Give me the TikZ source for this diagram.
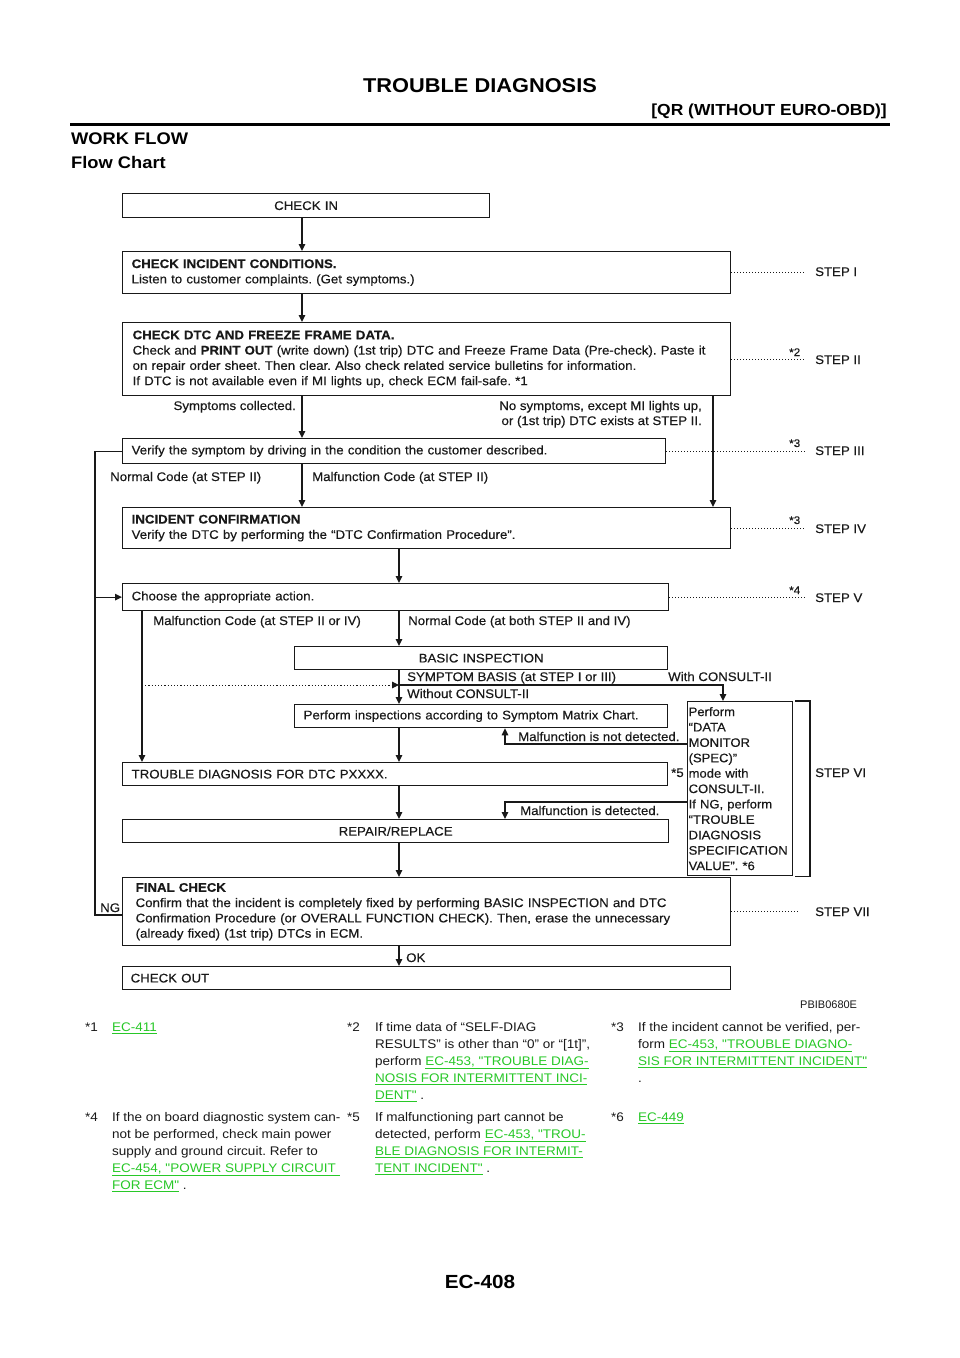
\documentclass[tikz,border=0pt]{standalone}
\usepackage{fontspec}
\setmainfont{Liberation Sans}
\newfontfamily\fcfam{Liberation Sans}[FakeStretch=1.06,FakeBold=0.3]
\newfontfamily\fnfam{Liberation Sans}[FakeStretch=1.08]
\newfontfamily\hdfam{Liberation Sans}[FakeStretch=1.09]
\usetikzlibrary{arrows.meta}
\definecolor{lnkgreen}{RGB}{40,200,40}
\definecolor{ink}{RGB}{25,25,25}
\newcommand\lnk[1]{\textcolor{lnkgreen}{\underline{#1}}}
\newcommand\nohyph{\hyphenpenalty=10000 \exhyphenpenalty=10000 \frenchspacing}
\newcommand\fcf{\fcfam\fontsize{12.5}{15.3}\selectfont\nohyph}
\newcommand\consf{\fcfam\fontsize{12.3}{15.4}\selectfont\nohyph}
\newcommand\fnf{\fnfam\fontsize{12.5}{17}\selectfont\frenchspacing}
\tikzset{
  fbox/.style={draw=ink, line width=1.3pt, anchor=north west, inner xsep=9pt, inner ysep=0pt, align=left, font=\fcf, text=ink},
  lbl/.style={inner sep=0pt, font=\fcf, text=ink},
  stepl/.style={inner sep=0pt, font=\fcf, text=ink, anchor=base west},
  starl/.style={inner sep=0pt, font=\fcfam\fontsize{11}{12}\selectfont, text=ink, anchor=base west},
  conn/.style={draw=ink, line width=1.3pt},
  arr/.style={draw=ink, line width=1.3pt, -{Triangle[width=6.5pt,length=7pt]}},
  dotl/.style={draw=ink, line width=0.9pt, dash pattern=on 1pt off 2pt},
  fnote/.style={inner sep=0pt, anchor=base west, align=left, font=\fnf, text=ink},
}
\begin{document}
\begin{tikzpicture}[x=1pt,y=-1pt]
\useasboundingbox (0,0) rectangle (960,1358);
\fill[white] (0,0) rectangle (960,1358);

% header
\node[inner sep=0pt, anchor=base, font=\hdfam\bfseries\fontsize{20}{24}\selectfont] (title) at (480,92) {TROUBLE DIAGNOSIS};
\node[inner sep=0pt, anchor=base east, font=\hdfam\bfseries\fontsize{16}{20}\selectfont] (sub) at (887,115) {[QR (WITHOUT EURO-OBD)]};
\coordinate (ruleL) at (70,124.5);
\coordinate (ruleR) at (890,124.5);
\draw[line width=2.6pt] (ruleL) -- (ruleR);
\node[inner sep=0pt, anchor=base west, font=\hdfam\bfseries\fontsize{16.8}{20}\selectfont] (wf) at (71,144) {WORK FLOW};
\node[inner sep=0pt, anchor=base west, font=\hdfam\bfseries\fontsize{16.8}{20}\selectfont] (fc) at (71,168) {Flow Chart};

% column coordinates
\coordinate (xA) at (302,0);
\coordinate (xB) at (399,0);
\coordinate (xC) at (713,0);
\coordinate (xL) at (142,0);
\coordinate (xN) at (95,0);
\coordinate (xD) at (805,0);
\coordinate (xM) at (505,0);
\coordinate (xW) at (723,0);
\coordinate (xBr) at (810,0);

% boxes
\node[fbox, align=center, text width=349pt, minimum height=24pt] (checkin) at (122,193) {CHECK IN};
\node[fbox, text width=590pt, minimum height=42pt] (cond) at (122,251) {\textbf{CHECK INCIDENT CONDITIONS.}\\Listen to customer complaints. (Get symptoms.)};
\node[fbox, inner xsep=10pt, text width=588pt, minimum height=73pt] (dtc) at (122,322) {\textbf{CHECK DTC AND FREEZE FRAME DATA.}\\Check and \textbf{PRINT OUT} (write down) (1st trip) DTC and Freeze Frame Data (Pre-check). Paste it\\on repair order sheet. Then clear. Also check related service bulletins for information.\\If DTC is not available even if MI lights up, check ECM fail-safe. *1};
\node[fbox, text width=525pt, minimum height=25pt] (verify) at (122,438) {Verify the symptom by driving in the condition the customer described.};
\node[fbox, text width=590pt, minimum height=41pt] (confirm) at (122,507) {\textbf{INCIDENT CONFIRMATION}\\Verify the DTC by performing the “DTC Confirmation Procedure”.};
\node[fbox, text width=528pt, minimum height=27pt] (choose) at (122,583) {Choose the appropriate action.};
\node[fbox, align=center, text width=355pt, minimum height=23pt] (basic) at (294,646) {BASIC INSPECTION};
\node[fbox, text width=355pt, minimum height=23pt] (perform) at (294,704) {Perform inspections according to Symptom Matrix Chart.};
\node[fbox, text width=527pt, minimum height=23pt] (tdtc) at (122,762) {TROUBLE DIAGNOSIS FOR DTC PXXXX.};
\node[fbox, align=center, text width=528pt, minimum height=23pt] (repair) at (122,819) {REPAIR/REPLACE};
\node[fbox, inner xsep=1pt, text width=103pt, minimum height=174pt, font=\consf] (consult) at (687,701) {Perform\\“DATA\\MONITOR\\(SPEC)”\\mode with\\CONSULT-II.\\If NG, perform\\“TROUBLE\\DIAGNOSIS\\SPECIFICATION\\VALUE”. *6};
\node[fbox, inner xsep=13pt, text width=582pt, minimum height=68pt] (final) at (122,877) {\textbf{FINAL CHECK}\\Confirm that the incident is completely fixed by performing BASIC INSPECTION and DTC\\Confirmation Procedure (or OVERALL FUNCTION CHECK). Then, erase the unnecessary\\(already fixed) (1st trip) DTCs in ECM.};
\node[fbox, inner xsep=8pt, text width=592pt, minimum height=23pt] (checkout) at (122,966) {CHECK OUT};

% main connectors
\draw[arr] (checkin.south -| xA) -- (cond.north -| xA);
\draw[arr] (cond.south -| xA) -- (dtc.north -| xA);
\draw[arr] (dtc.south -| xA) -- (verify.north -| xA);
\draw[arr] (dtc.south -| xC) -- (confirm.north -| xC);
\draw[arr] (verify.south -| xA) -- (confirm.north -| xA);
\draw[arr] (confirm.south -| xB) -- (choose.north -| xB);
\draw[arr] (choose.south -| xB) -- (basic.north -| xB);
\draw[arr] (choose.south -| xL) -- (tdtc.north -| xL);
\draw[arr] (basic.south -| xB) -- (perform.north -| xB);
\coordinate (ySym) at (0,685);
\draw[arr] (ySym -| xB) -- (ySym -| xW) -- (consult.north -| xW);
\draw[arr, dash pattern=on 1.2pt off 2pt, line width=1pt] (ySym -| xL) -- (ySym -| xB);
\draw[arr] (perform.south -| xB) -- (tdtc.north -| xB);
\draw[arr] (tdtc.south -| xB) -- (repair.north -| xB);
\draw[arr] (repair.south -| xB) -- (final.north -| xB);
\draw[arr] (final.south -| xB) -- (checkout.north -| xB);
\coordinate (yND) at (0,744);
\draw[arr] (yND -| consult.west) -| (perform.south -| xM);
\coordinate (yDT) at (0,802);
\draw[arr] (yDT -| consult.west) -| (repair.north -| xM);
% NG loop
\coordinate (yNG) at (0,915);
\draw[conn] (yNG -| final.west) -- (yNG -| xN) -- (verify.west -| xN) -- (verify.west);
\draw[arr] (choose.west -| xN) -- (choose.west);
% bracket STEP VI
\draw[conn] ([xshift=2pt]consult.north east) -- (consult.north east -| xBr) -- (consult.south east -| xBr) -- ([xshift=2pt]consult.south east);

% dotted step lines
\draw[dotl] (cond.east) -- (cond.east -| xD);
\draw[dotl] (dtc.east) -- (dtc.east -| xD);
\draw[dotl] (verify.east) -- (verify.east -| xD);
\draw[dotl] (confirm.east) -- (confirm.east -| xD);
\draw[dotl] (choose.east) -- (choose.east -| xD);
\draw[dotl] (final.east) -- ([xshift=-5pt]final.east -| xD);

% step labels
\node[stepl] (s1) at (815,276) {STEP I};
\node[stepl] (s2) at (815,364) {STEP II};
\node[stepl] (s3) at (815,455) {STEP III};
\node[stepl] (s4) at (815,533) {STEP IV};
\node[stepl] (s5) at (815,602) {STEP V};
\node[stepl] (s6) at (815,777) {STEP VI};
\node[stepl] (s7) at (815,916) {STEP VII};
\node[starl] (st2) at (789,356) {*2};
\node[starl] (st3a) at (789,447) {*3};
\node[starl] (st3b) at (789,524) {*3};
\node[starl] (st4) at (789,594) {*4};

% connector labels
\node[lbl, anchor=base east] (lsym) at (296,410) {Symptoms collected.};
\node[lbl, anchor=base east] (lnos1) at (702,410) {No symptoms, except MI lights up,};
\node[lbl, anchor=base east] (lnos2) at (702,425) {or (1st trip) DTC exists at STEP II.};
\node[lbl, anchor=base west] (lnc) at (110,481) {Normal Code (at STEP II)};
\node[lbl, anchor=base west] (lmc) at (312,481) {Malfunction Code (at STEP II)};
\node[lbl, anchor=base west] (lmc2) at (153,625) {Malfunction Code (at STEP II or IV)};
\node[lbl, anchor=base west] (lnc2) at (408,625) {Normal Code (at both STEP II and IV)};
\node[lbl, anchor=base west] (lsb) at (407,681) {SYMPTOM BASIS (at STEP I or III)};
\node[lbl, anchor=base west] (lwo) at (407,698) {Without CONSULT-II};
\node[lbl, anchor=base west] (lwi) at (668,681) {With CONSULT-II};
\node[lbl, anchor=base west] (lnd) at (518,741) {Malfunction is not detected.};
\node[lbl, anchor=base west] (ldt) at (520,815) {Malfunction is detected.};
\node[lbl, anchor=base west] (l5) at (671,777) {*5};
\node[lbl, anchor=base west] (lng) at (100,912) {NG};
\node[lbl, anchor=base west] (lok) at (406,962) {OK};
\node[inner sep=0pt, anchor=base west, font=\fontsize{11}{13}\selectfont, text=ink] (code) at (800,1008) {PBIB0680E};

% footnotes (base anchor = baseline of last line)
\node[fnote] (m1) at (85,1031.5) {*1};
\node[fnote] (f1) at (112,1031.5) {\lnk{EC-411}};
\node[fnote] (m2) at (347,1031.5) {*2};
\node[fnote] (f2) at (375,1099.5) {If time data of “SELF-DIAG\\RESULTS” is other than “0” or “[1t]”,\\perform \lnk{EC-453, "TROUBLE DIAG-}\\\lnk{NOSIS FOR INTERMITTENT INCI-}\\\lnk{DENT"} .};
\node[fnote] (m3) at (611,1031.5) {*3};
\node[fnote] (f3) at (638,1082.5) {If the incident cannot be verified, per-\\form \lnk{EC-453, "TROUBLE DIAGNO-}\\\lnk{SIS FOR INTERMITTENT INCIDENT"}\\.};
\node[fnote] (m4) at (85,1121.5) {*4};
\node[fnote] (f4) at (112,1189.5) {If the on board diagnostic system can-\\not be performed, check main power\\supply and ground circuit. Refer to\\\lnk{EC-454, "POWER SUPPLY CIRCUIT }\\\lnk{FOR ECM"} .};
\node[fnote] (m5) at (347,1121.5) {*5};
\node[fnote] (f5) at (375,1172.5) {If malfunctioning part cannot be\\detected, perform \lnk{EC-453, "TROU-}\\\lnk{BLE DIAGNOSIS FOR INTERMIT-}\\\lnk{TENT INCIDENT"} .};
\node[fnote] (m6) at (611,1121.5) {*6};
\node[fnote] (f6) at (638,1121.5) {\lnk{EC-449}};

% page number
\node[inner sep=0pt, anchor=base, font=\hdfam\bfseries\fontsize{19}{22}\selectfont] (pg) at (480,1288) {EC-408};
\end{tikzpicture}
\end{document}
